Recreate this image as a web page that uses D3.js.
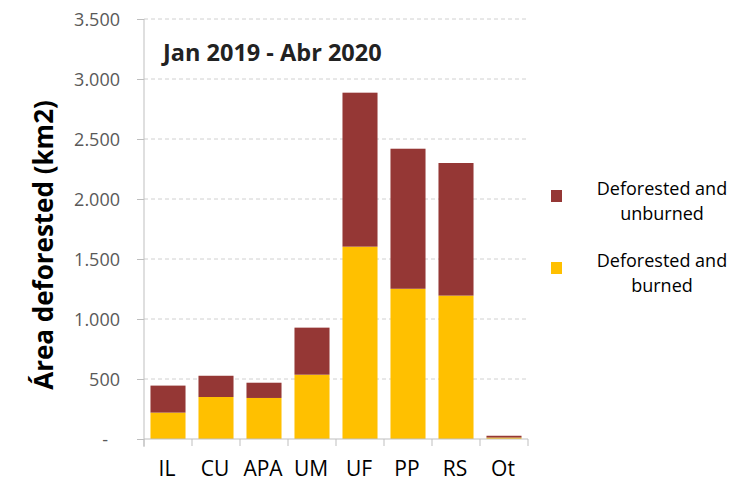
<!DOCTYPE html>
<html>
<head>
<meta charset="utf-8">
<script src="https://cdn.jsdelivr.net/npm/d3@7"></script>
<style>
  body { margin: 0; background: #fff; }
  text { font-family: "Open Sans", sans-serif; }
</style>
</head>
<body>
<div id="chart"></div>
<script>
// Data (km2)
var categories = ["IL", "CU", "APA", "UM", "UF", "PP", "RS", "Ot"];
var burned = [220, 350, 342, 536, 1603, 1252, 1195, 12];
var unburned = [225, 177, 127, 392, 1283, 1167, 1105, 15];
var yTicks = [0, 500, 1000, 1500, 2000, 2500, 3000, 3500];
var seriesNames = ["Deforested and burned", "Deforested and unburned"];
var colors = ["#FFC000", "#953735"];

var svgWidth = 734;
var svgHeight = 482;
var margin = { top: 19, left: 144, right: 206, bottom: 43 };
var width = svgWidth - margin.left - margin.right;
var height = svgHeight - margin.top - margin.bottom;

var svg = d3.select("#chart")
  .append("svg")
  .attr("width", svgWidth)
  .attr("height", svgHeight);

var chartGroup = svg.append("g")
  .attr("transform", `translate(${margin.left}, ${margin.top})`);

// scales
var x = d3.scaleBand()
  .domain(categories)
  .range([0, width])
  .paddingInner(0.27)
  .paddingOuter(0.135);

var y = d3.scaleLinear()
  .domain([0, 3500])
  .range([height, 0]);

// gridlines
chartGroup.selectAll(".grid")
  .data(yTicks.slice(1))
  .enter().append("line")
  .attr("x1", 0)
  .attr("x2", width)
  .attr("y1", d => y(d))
  .attr("y2", d => y(d))
  .attr("stroke", "#d0d0d0")
  .attr("stroke-dasharray", "4,3");

// stacked data
var table = categories.map(function (c, i) {
  return { cat: c, burned: burned[i], unburned: unburned[i] };
});
var stack = d3.stack().keys(["burned", "unburned"])(table);

chartGroup.selectAll(".layer")
  .data(stack)
  .enter().append("g")
  .attr("fill", (d, i) => colors[i])
  .selectAll("rect")
  .data(d => d)
  .enter().append("rect")
  .attr("x", d => x(d.data.cat))
  .attr("width", x.bandwidth())
  .attr("y", d => y(d[1]))
  .attr("height", d => y(d[0]) - y(d[1]));

// y axis
var leftAxis = d3.axisLeft(y)
  .tickValues(yTicks)
  .tickSize(7)
  .tickPadding(17)
  .tickFormat(d => d === 0 ? "-" : d3.format(",")(d).replace(/,/g, "."));

var yAxisG = chartGroup.append("g").call(leftAxis);
yAxisG.select(".domain")
  .attr("stroke", "#bfbfbf")
  .attr("d", `M0,0V${height + 8}`);
yAxisG.selectAll(".tick line").attr("stroke", "#bfbfbf");
yAxisG.selectAll(".tick text")
  .attr("fill", "#595959")
  .attr("font-size", "18px")
  .attr("font-family", "Open Sans")
  .attr("dy", "0.34em");
yAxisG.selectAll(".tick text")
  .filter(d => d === 0)
  .attr("dx", "-12px");

// x axis with boundary ticks
var xAxisG = chartGroup.append("g")
  .attr("transform", `translate(0, ${height})`);
xAxisG.append("line")
  .attr("x1", 0).attr("x2", width)
  .attr("stroke", "#bfbfbf");
var step = x.step();
xAxisG.selectAll(".bound")
  .data(d3.range(categories.length + 1))
  .enter().append("line")
  .attr("x1", d => x(categories[0]) - x.paddingInner() * step / 2 + d * step)
  .attr("x2", d => x(categories[0]) - x.paddingInner() * step / 2 + d * step)
  .attr("y1", 0).attr("y2", 7)
  .attr("stroke", "#bfbfbf");
xAxisG.selectAll(".xlabel")
  .data(categories)
  .enter().append("text")
  .attr("x", d => x(d) + x.bandwidth() / 2 - 1)
  .attr("y", 37)
  .attr("text-anchor", "middle")
  .attr("font-size", "21px")
  .attr("fill", "#000")
  .text(d => d);

// title inside plot
chartGroup.append("text")
  .attr("x", 19)
  .attr("y", 42)
  .attr("font-size", "23.5px")
  .attr("font-weight", "bold")
  .attr("fill", "#222")
  .text("Jan 2019 - Abr 2020");

// y axis label
svg.append("text")
  .attr("transform", "rotate(-90)")
  .attr("x", -245)
  .attr("y", 53)
  .attr("text-anchor", "middle")
  .attr("font-size", "26px")
  .attr("font-weight", "bold")
  .attr("fill", "#000")
  .text("Área deforested (km2)");

// legend
var legendItems = [
  { name: seriesNames[1], color: colors[1], lines: ["Deforested and", "unburned"], y: 190 },
  { name: seriesNames[0], color: colors[0], lines: ["Deforested and", "burned"], y: 262 }
];
var legend = svg.selectAll(".legend")
  .data(legendItems)
  .enter().append("g")
  .attr("transform", d => `translate(551, ${d.y})`);
legend.append("rect")
  .attr("width", 11)
  .attr("height", 12)
  .attr("fill", d => d.color);
legend.append("text")
  .attr("x", 111)
  .attr("y", 5)
  .attr("text-anchor", "middle")
  .attr("font-size", "18px")
  .attr("fill", "#000")
  .selectAll("tspan")
  .data(d => d.lines)
  .enter().append("tspan")
  .attr("x", 111)
  .attr("dy", (d, i) => i === 0 ? 0 : 25)
  .text(d => d);
</script>
</body>
</html>
